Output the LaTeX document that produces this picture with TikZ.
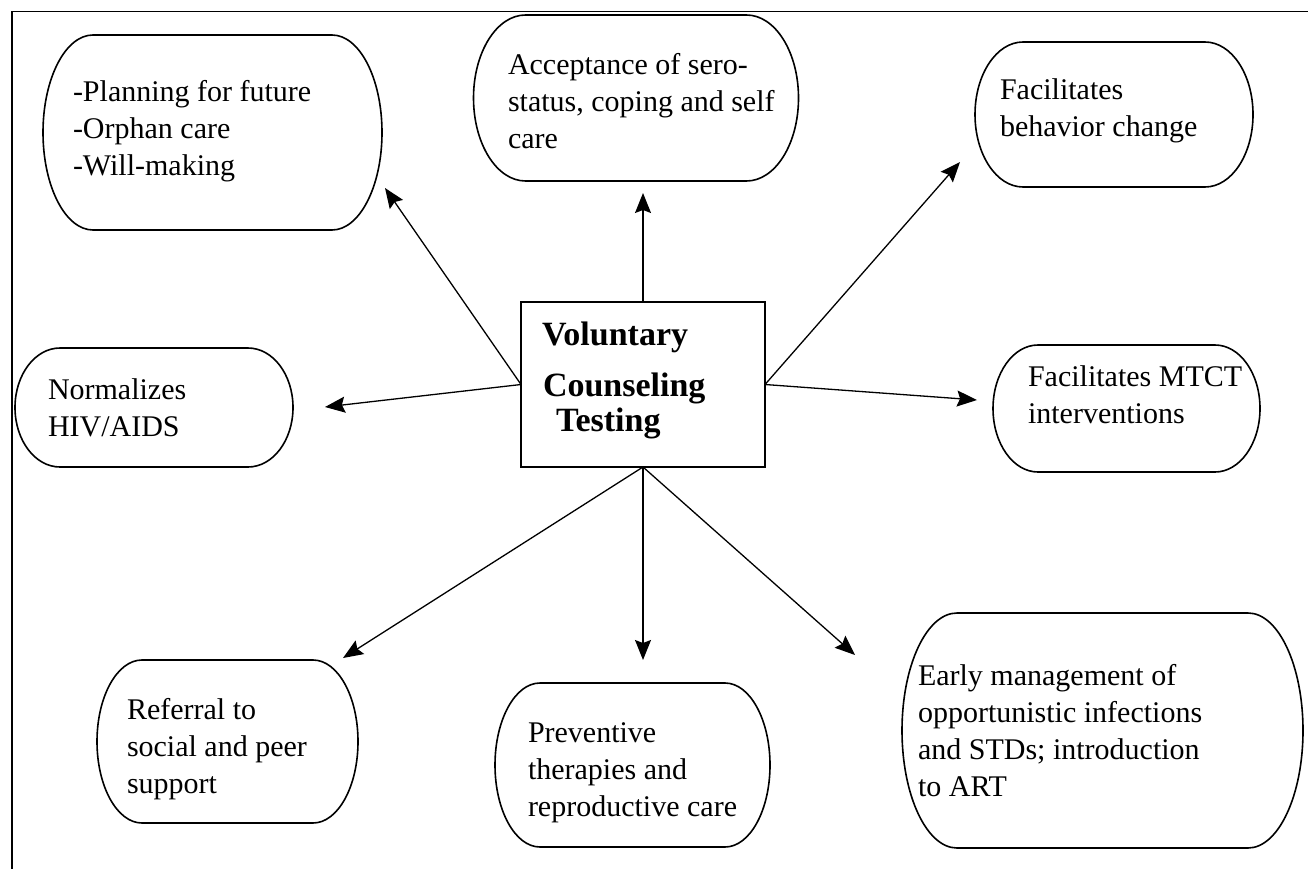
\documentclass[tikz,border=0pt]{standalone}
\usepackage{fontspec}
\setmainfont{Liberation Serif}
\usetikzlibrary{arrows.meta,calc}

\tikzset{
  area/.style={draw=none, inner sep=0pt, outer sep=0pt},
  frameline/.style={line width=1.8pt},
  outline/.style={line width=1.6pt},
  hub/.style={draw, line width=1.6pt, inner sep=0pt, outer sep=0pt},
  txt/.style={anchor=north west, inner sep=0pt, outer sep=0pt, align=left,
              font=\fontsize{30}{36.7}\selectfont},
  hubtxt/.style={anchor=north west, inner sep=0pt, outer sep=0pt, align=left,
              font=\fontsize{34}{36}\selectfont\bfseries},
  link/.style={line width=1.3pt, -{Stealth[length=20pt,width=16pt,inset=3pt]}},
}

% oval outline around an invisible area node: #1 name, #2 horizontal corner radius
\newcommand\ovalline[2]{%
  \draw[outline] let \p1=(#1.north), \p2=(#1.south), \n1={(\y1-\y2)/2} in
    ($(#1.north west)+(#2,0)$) -- ($(#1.north east)+(-#2,0)$)
    arc[start angle=90, end angle=-90, x radius=#2pt, y radius=\n1]
    -- ($(#1.south west)+(#2,0)$)
    arc[start angle=270, end angle=90, x radius=#2pt, y radius=\n1] -- cycle;}

\begin{document}
\begin{tikzpicture}[x=1pt, y=1pt]
  \useasboundingbox (0,0) rectangle (1308,-869);

  % page frame: top and left edges
  \draw[frameline] (12,-869) -- (12,-11.5) -- (1308,-11.5);

  % central box
  \node[hub, minimum width=244pt, minimum height=165pt] (vct) at (643,-384.5) {};
  \node[hubtxt] (vct1) at (542,-345+25.2) {\strut Voluntary};
  \node[hubtxt] (vct2) at (543,-396+25.2) {\strut Counseling};
  \node[hubtxt] (vct3) at (556,-431+25.2) {\strut Testing};

  % outcome areas
  \node[area, minimum width=339pt, minimum height=195pt] (plan)   at (212.5,-132.5) {};
  \node[area, minimum width=325pt, minimum height=166pt] (accept) at (636,-98) {};
  \node[area, minimum width=278pt, minimum height=145pt] (behav)  at (1114,-114.5) {};
  \node[area, minimum width=278pt, minimum height=119pt] (norm)   at (154,-407.5) {};
  \node[area, minimum width=267pt, minimum height=127pt] (mtct)   at (1126.5,-408.5) {};
  \node[area, minimum width=261pt, minimum height=163pt] (refer)  at (227.5,-741.5) {};
  \node[area, minimum width=275pt, minimum height=164pt] (prev)   at (632.5,-765) {};
  \node[area, minimum width=401pt, minimum height=235pt] (early)  at (1102.5,-730.5) {};

  \ovalline{plan}{50}
  \ovalline{accept}{52}
  \ovalline{behav}{48}
  \ovalline{norm}{45}
  \ovalline{mtct}{45}
  \ovalline{refer}{45}
  \ovalline{prev}{45}
  \ovalline{early}{55}

  % texts (first baseline minus strut height)
  \node[txt] (planT)   at (73,-102+25.7)   {\strut -Planning for future\\-Orphan care\\-Will-making};
  \node[txt] (acceptT) at (508,-75+25.7)   {\strut Acceptance of sero-\\status, coping and self\\care};
  \node[txt] (behavT)  at (1000,-100+25.7) {\strut Facilitates\\behavior change};
  \node[txt] (normT)   at (48,-400+25.7)   {\strut Normalizes\\HIV/AIDS};
  \node[txt] (mtctT)   at (1028,-387+25.7) {\strut Facilitates MTCT\\interventions};
  \node[txt] (referT)  at (127,-720+25.7)  {\strut Referral to\\social and peer\\support};
  \node[txt] (prevT)   at (528,-743+25.7)  {\strut Preventive\\therapies and\\reproductive care};
  \node[txt] (earlyT)  at (918,-686+25.7)  {\strut Early management of\\opportunistic infections\\and STDs; introduction\\to ART};

  % arrow tips
  \coordinate (tPlan)   at (385,-188);
  \coordinate (tNorm)   at (325,-407);
  \coordinate (tAccept) at (643,-193);
  \coordinate (tBehav)  at (960,-162);
  \coordinate (tMtct)   at (977,-400);
  \coordinate (tRefer)  at (343,-658);
  \coordinate (tPrev)   at (643,-660);
  \coordinate (tEarly)  at (855,-655);

  \draw[link] (vct.west)  -- (tPlan);
  \draw[link] (vct.west)  -- (tNorm);
  \draw[link] (vct.north) -- (tAccept);
  \draw[link] (vct.east)  -- (tBehav);
  \draw[link] (vct.east)  -- (tMtct);
  \draw[link] (vct.south) -- (tRefer);
  \draw[link] (vct.south) -- (tPrev);
  \draw[link] (vct.south) -- (tEarly);
\end{tikzpicture}
\end{document}
